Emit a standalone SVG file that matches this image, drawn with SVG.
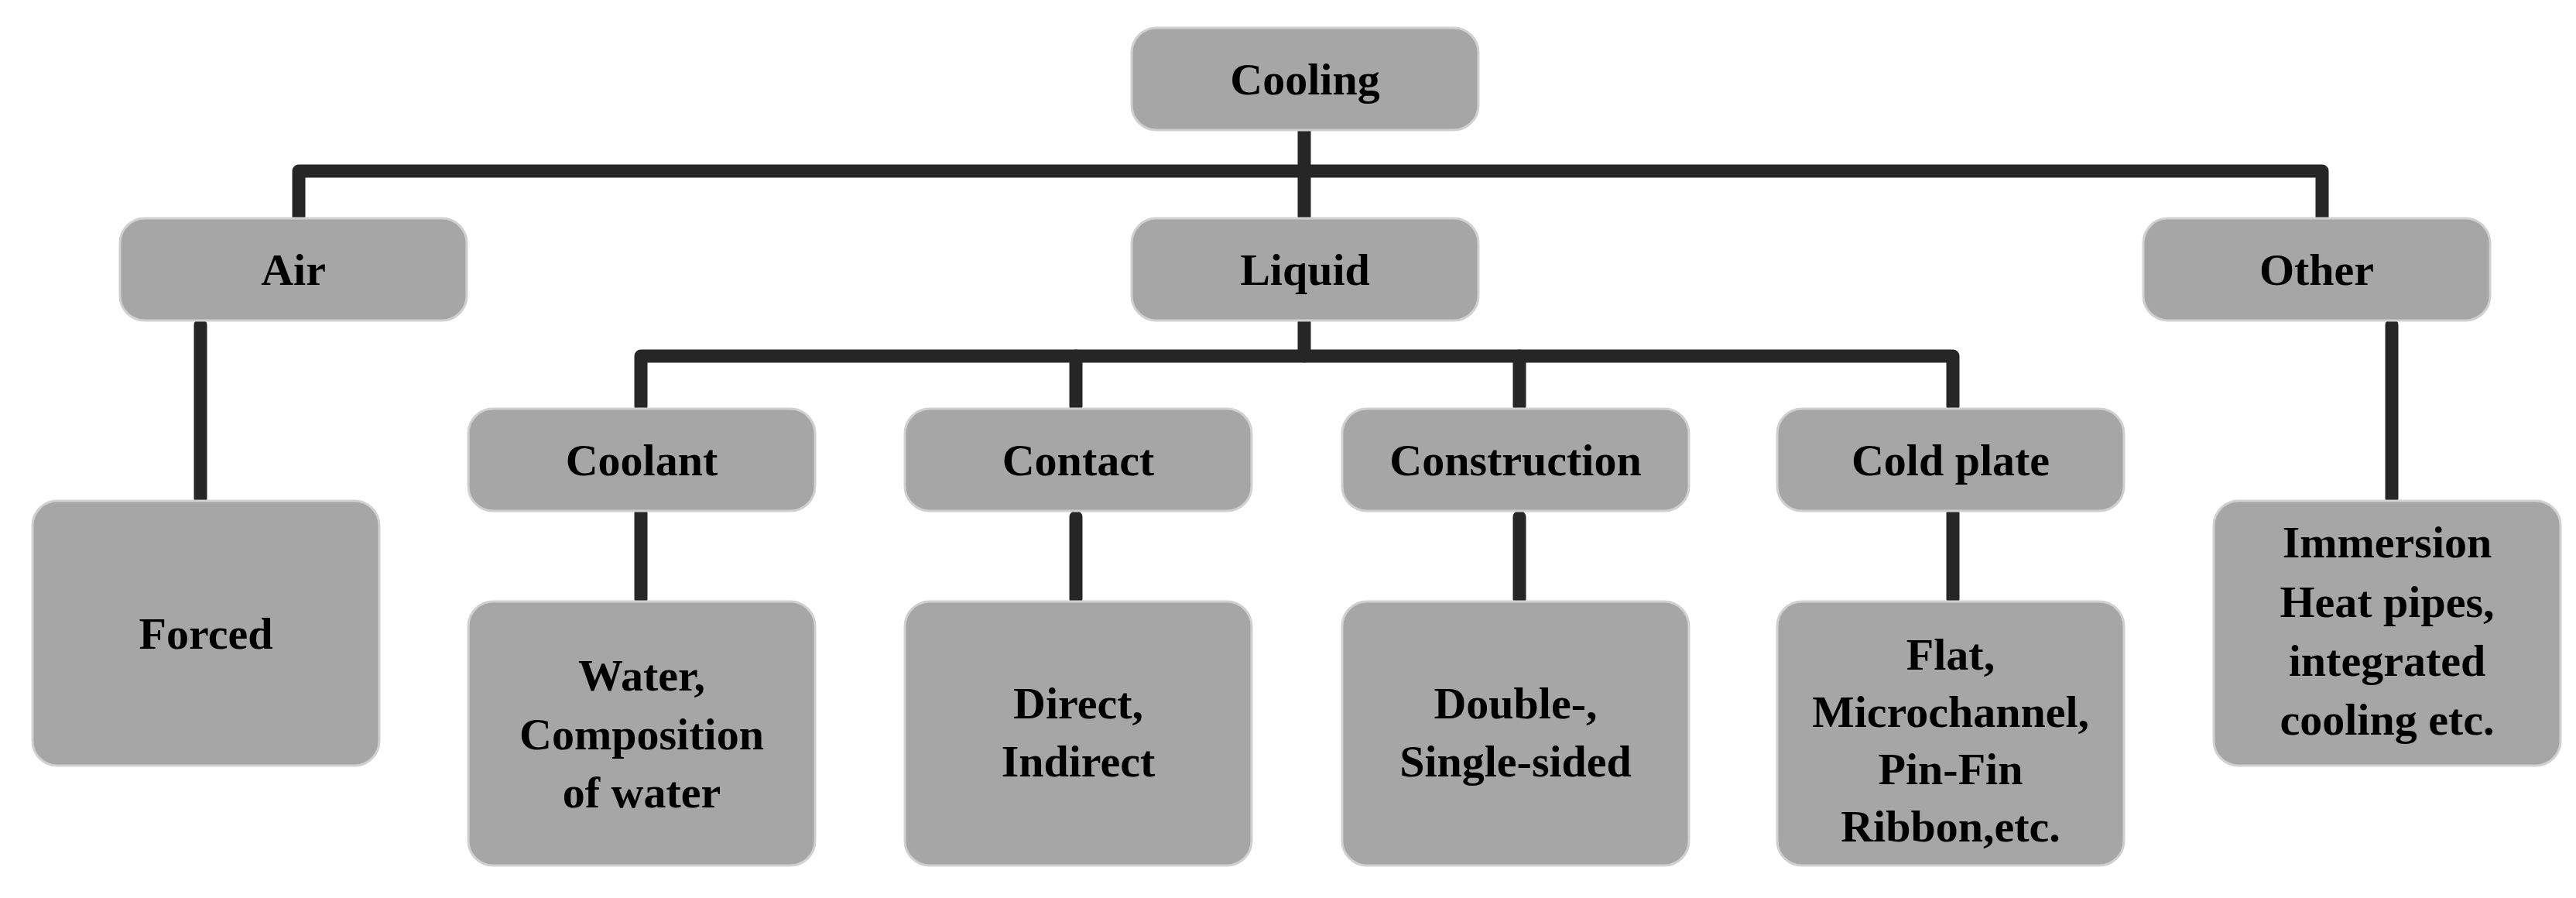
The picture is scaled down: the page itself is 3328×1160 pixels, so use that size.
<svg xmlns="http://www.w3.org/2000/svg" width="3328" height="1160" viewBox="0 0 3328 1160">
<style>
.n rect{fill:#a6a6a6;stroke:#d0d0d0;stroke-width:3}
.n text{font-family:"Liberation Serif",serif;font-weight:bold;font-size:58px;fill:#000;text-anchor:middle}
#conn path{fill:none;stroke:#262626;stroke-width:17;stroke-linejoin:round;stroke-linecap:round}
</style>
<rect width="3328" height="1160" fill="#fff"/>
<g id="conn">
<path d="M386 280V221H3000V280"/>
<path d="M1685 168V280"/>
<path d="M1685 414V460"/>
<path d="M828 525V460H2523V525"/>
<path d="M1390 460V525M1963 460V525"/>
<path d="M259 420V644"/>
<path d="M3090 420V644"/>
<path d="M828 663V774M1390 668V774M1963 668V774M2523 663V774"/>
</g>
<g id="cooling" class="n"><rect x="1462" y="36" width="448" height="132" rx="32"/><text x="1686" y="122">Cooling</text></g>
<g id="air" class="n"><rect x="155" y="282" width="448" height="132" rx="32"/><text x="379" y="368">Air</text></g>
<g id="liquid" class="n"><rect x="1462" y="282" width="448" height="132" rx="32"/><text x="1686" y="368">Liquid</text></g>
<g id="other" class="n"><rect x="2769" y="282" width="448" height="132" rx="32"/><text x="2993" y="368">Other</text></g>
<g id="forced" class="n"><rect x="42" y="647" width="448" height="342" rx="32"/><text x="266" y="838">Forced</text></g>
<g id="coolant" class="n"><rect x="605" y="528" width="448" height="132" rx="32"/><text x="829" y="614">Coolant</text></g>
<g id="contact" class="n"><rect x="1169" y="528" width="448" height="132" rx="32"/><text x="1393" y="614">Contact</text></g>
<g id="construction" class="n"><rect x="1734" y="528" width="448" height="132" rx="32"/><text x="1958" y="614">Construction</text></g>
<g id="coldplate" class="n"><rect x="2296" y="528" width="448" height="132" rx="32"/><text x="2520" y="614">Cold plate</text></g>
<g id="water" class="n"><rect x="605" y="777" width="448" height="341" rx="32"/><text x="829" y="892">Water,</text><text x="829" y="968">Composition</text><text x="829" y="1043">of water</text></g>
<g id="direct" class="n"><rect x="1169" y="777" width="448" height="341" rx="32"/><text x="1393" y="928">Direct,</text><text x="1393" y="1003">Indirect</text></g>
<g id="double" class="n"><rect x="1734" y="777" width="448" height="341" rx="32"/><text x="1958" y="928">Double-,</text><text x="1958" y="1003">Single-sided</text></g>
<g id="flat" class="n"><rect x="2296" y="777" width="448" height="341" rx="32"/><text x="2520" y="865">Flat,</text><text x="2520" y="939">Microchannel,</text><text x="2520" y="1013">Pin-Fin</text><text x="2520" y="1087">Ribbon,etc.</text></g>
<g id="immersion" class="n"><rect x="2860" y="647" width="448" height="342" rx="32"/><text x="3084" y="720">Immersion</text><text x="3084" y="797">Heat pipes,</text><text x="3084" y="873">integrated</text><text x="3084" y="949">cooling etc.</text></g>
</svg>
